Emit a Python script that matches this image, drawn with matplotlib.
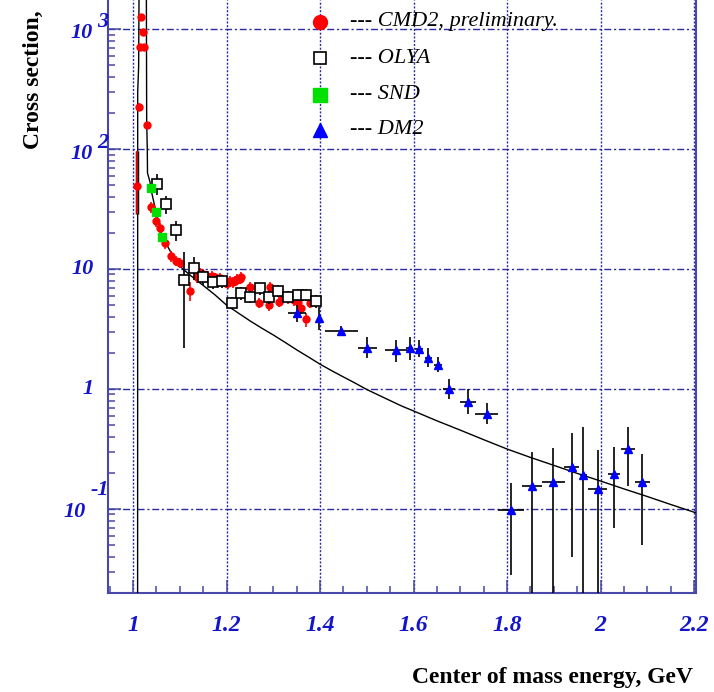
import matplotlib
matplotlib.use("Agg")
import matplotlib.pyplot as plt
from matplotlib.ticker import MultipleLocator, LogLocator, NullFormatter

plt.rcParams["font.family"] = ["Liberation Serif", "DejaVu Serif"]

# theory curve: phi peak and continuum
curve_e = [1.0098, 1.0100, 1.0120, 1.0130, 1.0190, 1.0285, 1.0292, 1.0305, 1.0310,
           1.0364, 1.0380, 1.0490, 1.0610, 1.0700, 1.0800, 1.0900, 1.1000, 1.1080,
           1.1250, 1.1500, 1.1750, 1.2000, 1.2250, 1.2500, 1.2750, 1.3000, 1.3250,
           1.3500, 1.3750, 1.4000, 1.4250, 1.4500, 1.4750, 1.5000, 1.5250, 1.5500,
           1.5750, 1.6000, 1.6500, 1.7000, 1.7500, 1.8000, 1.8500, 1.9000, 1.9500,
           2.0000, 2.0500, 2.1000, 2.1500, 2.2000, 2.2100]
curve_s = [0.005, 300, 480, 2500, 5000, 2500, 174, 100, 63,
           53, 47, 30, 19.5, 16.5, 14.0, 12.0, 10.6, 9.9,
           8.7, 7.3, 6.1, 5.0, 4.3, 3.7, 3.22, 2.82, 2.45,
           2.12, 1.85, 1.61, 1.42, 1.26, 1.12, 0.99, 0.89, 0.80,
           0.72, 0.656, 0.543, 0.454, 0.378, 0.316, 0.269, 0.231, 0.198,
           0.171, 0.147, 0.127, 0.109, 0.094, 0.092]

# CMD2, preliminary
cmd2_e = [1.0078, 1.0128, 1.0150, 1.0170, 1.0207, 1.0235, 1.0290,
          1.039, 1.049, 1.058, 1.069, 1.081, 1.092, 1.101, 1.121, 1.136, 1.143,
          1.150, 1.158, 1.168, 1.175, 1.179, 1.186, 1.192, 1.198, 1.203, 1.208,
          1.213, 1.218, 1.223, 1.228, 1.232, 1.250, 1.270, 1.291, 1.294, 1.312,
          1.320, 1.332, 1.344, 1.352, 1.360, 1.371, 1.378]
cmd2_s = [49, 225, 710, 1270, 950, 710, 159,
          33, 25, 22, 16.4, 12.8, 11.7, 11.3, 6.6, 8.6, 9.2,
          9.1, 8.7, 8.8, 8.5, 8.2, 8.4, 8.1, 7.7, 7.6, 7.9,
          7.8, 8.0, 8.2, 8.3, 8.6, 7.1, 5.25, 5.0, 7.1, 5.3,
          5.9, 5.7, 5.5, 5.3, 4.7, 3.8, 5.2]
cmd2_lo = [20, 15, 40, 60, 50, 40, 10,
           3.5, 2.5, 2.2, 1.6, 1.3, 1.2, 1.1, 1.2, 0.9, 0.9,
           0.9, 0.9, 0.9, 0.8, 0.8, 0.8, 0.8, 0.8, 0.8, 0.8,
           0.8, 0.8, 0.8, 0.8, 0.9, 0.7, 0.5, 0.5, 0.7, 0.5,
           0.6, 0.6, 0.6, 0.5, 0.5, 0.5, 0.5]
cmd2_hi = [47, 15, 40, 60, 50, 40, 10,
           3.5, 2.5, 2.2, 1.6, 1.3, 1.2, 1.1, 1.2, 0.9, 0.9,
           0.9, 0.9, 0.9, 0.8, 0.8, 0.8, 0.8, 0.8, 0.8, 0.8,
           0.8, 0.8, 0.8, 0.8, 0.9, 0.7, 0.5, 0.5, 0.7, 0.5,
           0.6, 0.6, 0.6, 0.5, 0.5, 0.5, 0.5]

# OLYA
olya_e = [1.0507, 1.0714, 1.0921, 1.1100, 1.1314, 1.1493, 1.1707, 1.1900, 1.2114,
          1.2300, 1.2507, 1.2707, 1.2900, 1.3100, 1.3314, 1.3529, 1.3707, 1.3921]
olya_s = [51.4, 34.8, 21.1, 8.1, 10.1, 8.6, 7.8, 7.9, 5.25,
          6.3, 5.9, 6.9, 5.8, 6.6, 5.9, 6.1, 6.1, 5.4]
olya_lo = [10, 6, 4, 5.9, 2, 1.2, 1.0, 1.0, 0.6,
           0.8, 0.7, 0.8, 0.7, 0.8, 0.7, 0.7, 0.7, 0.7]
olya_hi = [10, 6, 4, 5.8, 2.6, 1.2, 1.0, 1.0, 0.6,
           0.8, 0.7, 0.8, 0.7, 0.8, 0.7, 0.7, 0.7, 0.7]

# SND
snd_e = [1.0378, 1.049, 1.061]
snd_s = [47, 30, 18.6]

# DM2
dm2_e = [1.3507, 1.3986, 1.4457, 1.5014, 1.5621, 1.5914, 1.6114, 1.6314, 1.652,
         1.676, 1.716, 1.7564, 1.8079, 1.8529, 1.8986, 1.9379, 1.9629, 1.9936,
         2.0279, 2.0579, 2.0886]
dm2_s = [4.27, 3.9, 3.07, 2.21, 2.11, 2.18, 2.14, 1.82, 1.58,
         1.0, 0.784, 0.619, 0.098, 0.155, 0.167, 0.222, 0.192, 0.146,
         0.195, 0.314, 0.169]
dm2_xerr = [0.02, 0.0, 0.035, 0.021, 0.023, 0.008, 0.008, 0.008, 0.008,
            0.012, 0.017, 0.025, 0.028, 0.021, 0.025, 0.016, 0.008, 0.02,
            0.013, 0.015, 0.016]
dm2_lo = [0.63, 0.8, 0.3, 0.41, 0.42, 0.44, 0.30, 0.30, 0.19,
          0.17, 0.16, 0.11, 0.070, 0.150, 0.162, 0.182, 0.187, 0.141,
          0.126, 0.16, 0.119]
dm2_hi = [0.73, 0.95, 0.3, 0.52, 0.45, 0.55, 0.42, 0.36, 0.28,
          0.21, 0.21, 0.14, 0.068, 0.142, 0.158, 0.208, 0.288, 0.164,
          0.135, 0.166, 0.121]

# y tick labels drawn as "10" plus a raised exponent
ytick_vals = [1e3, 1e2, 1e1, 1e0, 1e-1]
ytick_base = ["10", "10", "10", "1", "10"]
ytick_exp = ["3", "2", "", "", "-1"]

legend_names = ["--- CMD2, preliminary.", "--- OLYA", "--- SND", "--- DM2"]

frame_col = "#4848a8"
grid_col = "#2a2aa8"
label_col = "#1414c8"

fig = plt.figure(figsize=(7.14, 6.92), dpi=100)
ax = fig.add_axes([108 / 714, 1 - 593 / 692, 588 / 714, 593 / 692])
ax.set_yscale("log")
ax.set_xlim(0.9465, 2.204)
ax.set_ylim(0.01995, 1745)

for side in ["left", "bottom", "right"]:
    ax.spines[side].set_color(frame_col)
    ax.spines[side].set_linewidth(1.5)
ax.spines["top"].set_visible(False)

ax.xaxis.set_major_locator(MultipleLocator(0.2))
ax.xaxis.set_minor_locator(MultipleLocator(0.05))
ax.yaxis.set_major_locator(LogLocator(base=10))
ax.yaxis.set_minor_locator(LogLocator(base=10, subs=range(2, 10)))
ax.yaxis.set_major_formatter(NullFormatter())
ax.yaxis.set_minor_formatter(NullFormatter())

ax.tick_params(axis="x", which="major", direction="in", length=9.5, width=1.1,
               color=frame_col, labelsize=17, labelcolor=label_col, pad=16)
ax.tick_params(axis="x", which="minor", direction="in", length=5, width=1.1,
               color=frame_col)
ax.tick_params(axis="y", which="major", direction="in", length=9, width=1.1,
               color=frame_col)
ax.tick_params(axis="y", which="minor", direction="in", length=5, width=1.1,
               color=frame_col)
ax.set_xticks([1.0, 1.2, 1.4, 1.6, 1.8, 2.0, 2.2])
ax.set_xticklabels(["1", "1.2", "1.4", "1.6", "1.8", "2", "2.2"],
                   fontweight="bold", fontstyle="italic")

ax.xaxis.grid(True, which="major", color=grid_col, lw=1.0, ls=(0, (1.5, 1.2)))
ax.yaxis.grid(True, which="major", color=grid_col, lw=1.0, ls=(0, (5, 2, 1.5, 2)))
ax.set_axisbelow(True)

# y tick labels
ylab_kw = dict(xycoords=("axes fraction", "data"), textcoords="offset points",
               ha="center", va="center", fontsize=16, fontweight="bold",
               fontstyle="italic", color=label_col, annotation_clip=False)
base_dx = [-26, -26, -25, -20, -33]
base_dy = [4, 5, 0, 0, 3]
exp_dx = [-5, -5, 0, 0, -8]
exp_dy = [-7, -6, 0, 0, -19]
for i, v in enumerate(ytick_vals):
    ax.annotate(ytick_base[i], xy=(0, v), xytext=(base_dx[i] * 0.72, -base_dy[i] * 0.72), **ylab_kw)
    if ytick_exp[i]:
        ax.annotate(ytick_exp[i], xy=(0, v), xytext=(exp_dx[i] * 0.72, -exp_dy[i] * 0.72), **ylab_kw)

# curve and data
ax.plot(curve_e, curve_s, color="black", lw=1.0, zorder=3)

# the lowest CMD2 point carries a heavy black bar
ax.vlines(cmd2_e[0], cmd2_s[0] - cmd2_lo[0], cmd2_s[0] + cmd2_hi[0],
          color="black", lw=2.5, zorder=3)
ax.errorbar(cmd2_e, cmd2_s, yerr=[cmd2_lo, cmd2_hi], fmt="o", color="red",
            ms=5, elinewidth=1.2, capsize=0, zorder=4)
ax.errorbar(olya_e, olya_s, yerr=[olya_lo, olya_hi], fmt="s", mfc="white",
            mec="black", mew=1.2, ms=7, ecolor="black", elinewidth=1.2,
            capsize=0, zorder=5)
ax.plot(snd_e, snd_s, "s", color="#00e000", ms=5.5, zorder=6)
ax.errorbar(dm2_e, dm2_s, xerr=dm2_xerr, yerr=[dm2_lo, dm2_hi], fmt="^",
            mfc="blue", mec="blue", ms=6, ecolor="black", elinewidth=1.2,
            capsize=0, zorder=5)

# legend drawn by hand on the 1.4 grid line
leg_y = [0.963, 0.902, 0.840, 0.781]
leg_style = [dict(marker="o", color="red", ms=10),
             dict(marker="s", mfc="white", mec="black", mew=1.2, ms=8.5),
             dict(marker="s", color="#00e000", ms=10),
             dict(marker="^", color="blue", ms=10)]
for y, name, st in zip(leg_y, legend_names, leg_style):
    ax.plot([0.3605], [y], ls="none", transform=ax.transAxes, clip_on=False,
            zorder=7, **st)
    ax.text(0.4116, y, name, transform=ax.transAxes, fontsize=16,
            fontstyle="italic", ha="left", va="center", zorder=7)

fig.text(693 / 714, 1 - 677 / 692, "Center of mass energy, GeV", ha="right",
         va="center", fontsize=17, fontweight="bold")
fig.text(33 / 714, 1 - 10 / 692, "Cross section,", rotation=90, ha="center",
         va="top", fontsize=17, fontweight="bold")

fig.savefig("out.png", dpi=100)
